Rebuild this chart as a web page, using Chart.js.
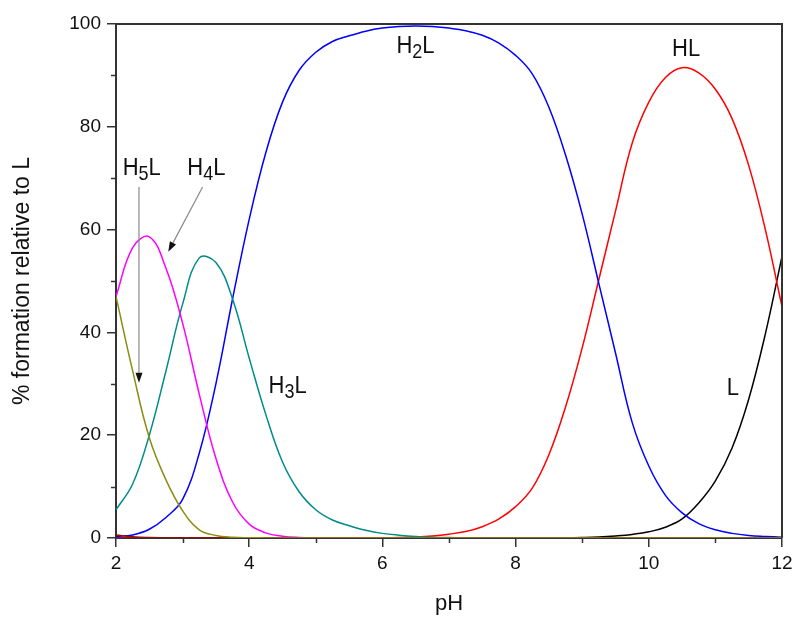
<!DOCTYPE html>
<html>
<head>
<meta charset="utf-8">
<script src="https://cdn.jsdelivr.net/npm/chart.js@4.4.1/dist/chart.umd.min.js"></script>
<style>
html,body{margin:0;padding:0;background:#fff;}
#wrap{width:798px;height:620px;}
</style>
</head>
<body>
<div id="wrap"><canvas id="c" width="798" height="620"></canvas></div>
<script>
// pH grid
const pH = [2,2.25,2.5,2.75,3,3.25,3.5,3.75,4,4.25,4.5,4.75,5,5.25,5.5,5.75,6,6.25,6.5,6.75,7,7.25,7.5,7.75,8,8.25,8.5,8.75,9,9.25,9.5,9.75,10,10.25,10.5,10.75,11,11.25,11.5,11.75,12];

// % formation relative to L
const H5L = [47,32.5,19.5,11.3,5.3,1.6,0.5,0.15,0.05,0.02,0,0,0,0,0,0,0,0,0,0,0,0,0,0,0,0,0,0,0,0,0,0,0,0,0,0,0,0,0,0,0];
const H6L = [0.6,0.25,0.1,0.05,0.02,0,0,0,0,0,0,0,0,0,0,0,0,0,0,0,0,0,0,0,0,0,0,0,0,0,0,0,0,0,0,0,0,0,0,0,0];
const H4L = [47,56.5,58.6,52.5,41.8,28,15.5,7,2.7,1.0,0.35,0.1,0.03,0,0,0,0,0,0,0,0,0,0,0,0,0,0,0,0,0,0,0,0,0,0,0,0,0,0,0,0];
const H3L = [5.5,10.5,20,32.5,45.5,54.5,53.6,46.5,35,24,14.8,9,5.5,3.5,2.4,1.5,0.9,0.55,0.3,0.15,0.08,0.04,0,0,0,0,0,0,0,0,0,0,0,0,0,0,0,0,0,0];
const H2L = [0.3,0.6,1.7,4.0,7.5,16.5,30,46.5,62,75,84.8,91,94.5,96.6,97.7,98.6,99.2,99.5,99.6,99.5,99.2,98.7,97.8,96.3,93.9,90.3,83.8,74.5,63,49.5,36,22.5,14.0,8.3,4.9,2.8,1.6,0.9,0.5,0.3,0.15];
const HL  = [0,0,0,0,0,0,0,0,0,0,0,0,0,0,0,0,0.05,0.1,0.2,0.4,0.75,1.25,2.2,3.7,6.1,9.7,16.2,25.5,37,50.3,63.6,76.8,84.8,89.6,91.5,90.5,87.3,81.6,72.5,60,45];
const L   = [0,0,0,0,0,0,0,0,0,0,0,0,0,0,0,0,0,0,0,0,0,0,0,0,0,0,0.02,0.05,0.1,0.2,0.4,0.7,1.2,2.1,3.7,6.8,11.1,17.5,27,39.7,54.8];

const xTicks = [2,4,6,8,10,12];
const yTicks = [0,20,40,60,80,100];
const xMinor = [3,5,7,9,11];
const yMinor = [10,30,50,70,90];

const FONT = "'Liberation Sans', Arial, Helvetica, sans-serif";

function ds(label, data, color){
  return {label, data: pH.map((v,i)=>({x:v, y:data[i]})), borderColor: color, backgroundColor: color,
    borderWidth: 1.5, pointRadius: 0, fill: false, tension: 0.4};
}

const annot = {
  id: 'annot',
  afterDatasetsDraw(chart){
    const {ctx, chartArea: a, scales: {x, y}} = chart;
    ctx.save();
    // frame top/right
    ctx.strokeStyle = '#333';
    ctx.lineWidth = 2;
    ctx.beginPath();
    ctx.moveTo(a.left, a.top);
    ctx.lineTo(a.right, a.top);
    ctx.lineTo(a.right, a.bottom);
    ctx.stroke();
    // minor ticks
    ctx.lineWidth = 1.5;
    ctx.beginPath();
    xMinor.forEach(v => { const px = Math.round(x.getPixelForValue(v)) + 0.5; ctx.moveTo(px, a.bottom); ctx.lineTo(px, a.bottom + 5); });
    yMinor.forEach(v => { const py = Math.round(y.getPixelForValue(v)) + 0.5; ctx.moveTo(a.left, py); ctx.lineTo(a.left - 5, py); });
    ctx.stroke();

    // arrows
    function arrow(x1, y1, x2, y2){
      const p1 = [x.getPixelForValue(x1), y.getPixelForValue(y1)];
      const p2 = [x.getPixelForValue(x2), y.getPixelForValue(y2)];
      const ang = Math.atan2(p2[1]-p1[1], p2[0]-p1[0]);
      const hl = 10, hw = 3.5;
      const bx = p2[0] - hl*Math.cos(ang), by = p2[1] - hl*Math.sin(ang);
      ctx.strokeStyle = '#888';
      ctx.lineWidth = 1.2;
      ctx.beginPath(); ctx.moveTo(p1[0], p1[1]); ctx.lineTo(bx, by); ctx.stroke();
      ctx.fillStyle = '#111';
      ctx.beginPath();
      ctx.moveTo(p2[0], p2[1]);
      ctx.lineTo(bx + hw*Math.sin(ang), by - hw*Math.cos(ang));
      ctx.lineTo(bx - hw*Math.sin(ang), by + hw*Math.cos(ang));
      ctx.closePath(); ctx.fill();
    }
    arrow(2.345, 68.3, 2.345, 30.2);
    arrow(3.30, 68.3, 2.785, 55.7);

    // species labels
    function label(main, sub, tail, xv, yv){
      const px = x.getPixelForValue(xv), py = y.getPixelForValue(yv);
      ctx.save();
      ctx.translate(px, py);
      ctx.scale(1, 1.1);
      ctx.fillStyle = '#111';
      ctx.textBaseline = 'alphabetic';
      ctx.textAlign = 'left';
      ctx.font = '22px ' + FONT;
      let cx = 0;
      ctx.fillText(main, cx, 0); cx += ctx.measureText(main).width;
      if (sub){
        ctx.font = '18px ' + FONT;
        ctx.fillText(sub, cx, 4.5); cx += ctx.measureText(sub).width;
        ctx.font = '22px ' + FONT;
      }
      if (tail){ ctx.fillText(tail, cx, 0); }
      ctx.restore();
    }
    label('H', '5', 'L', 2.10, 70.6);
    label('H', '4', 'L', 3.07, 70.6);
    label('H', '3', 'L', 4.29, 28.2);
    label('H', '2', 'L', 6.21, 94.3);
    label('HL', '', '', 10.35, 93.7);
    label('L', '', '', 11.17, 27.8);
    ctx.restore();
  }
};

new Chart(document.getElementById('c'), {
  type: 'line',
  data: {
    datasets: [
      ds('H5L', H5L, '#8c8c10'),
      ds('H6L', H6L, '#8b1010'),
      ds('H4L', H4L, '#ff00ff'),
      ds('H3L', H3L, '#008b8b'),
      ds('H2L', H2L, '#0000ff'),
      ds('HL', HL, '#ff0000'),
      ds('L', L, '#000000')
    ]
  },
  options: {
    responsive: false,
    animation: false,
    devicePixelRatio: 1,
    layout: { padding: { top: 24, right: 16, left: 0, bottom: 0 } },
    plugins: { legend: { display: false }, tooltip: { enabled: false } },
    scales: {
      x: {
        type: 'linear', min: 2, max: 12,
        afterBuildTicks: s => { s.ticks = xTicks.map(v => ({value: v})); },
        afterFit: s => { s.height = 82; },
        ticks: { color: '#111', font: { family: FONT, size: 19 }, padding: 5, maxRotation: 0 },
        grid: { drawOnChartArea: false, drawTicks: true, tickLength: 9, color: '#333', lineWidth: 1.5 },
        border: { display: true, color: '#333', width: 2 },
        title: { display: true, text: 'pH', color: '#111', font: { family: FONT, size: 22 }, padding: { top: 0, bottom: 3 } }
      },
      y: {
        type: 'linear', min: 0, max: 100,
        afterBuildTicks: s => { s.ticks = yTicks.map(v => ({value: v})); },
        afterFit: s => { s.width = 116; },
        ticks: { color: '#111', font: { family: FONT, size: 19 }, padding: 6 },
        grid: { drawOnChartArea: false, drawTicks: true, tickLength: 9, color: '#333', lineWidth: 1.5 },
        border: { display: true, color: '#333', width: 2 },
        title: { display: true, text: '% formation relative to L', color: '#111', font: { family: FONT, size: 23 }, padding: { top: 9, bottom: 0 } }
      }
    }
  },
  plugins: [annot]
});
</script>
</body>
</html>
